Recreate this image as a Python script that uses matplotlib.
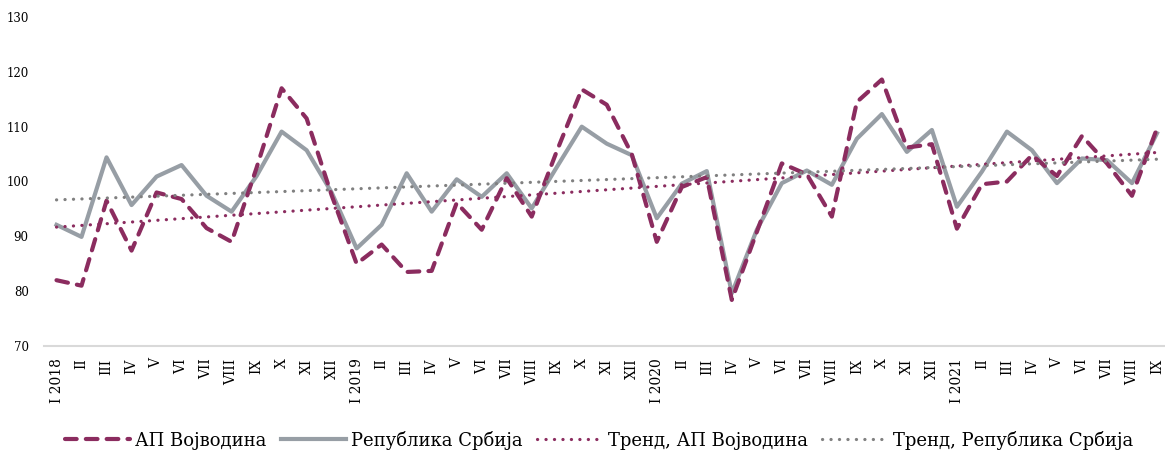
import numpy as np
import matplotlib
matplotlib.use('Agg')
import matplotlib.pyplot as plt

plt.rcParams['font.family'] = ['DejaVu Serif']

# Podaci (indeksi po mesecima, I 2018 - IX 2021)
meseci = ['I', 'II', 'III', 'IV', 'V', 'VI', 'VII', 'VIII', 'IX', 'X', 'XI', 'XII']
oznake = []
for godina in [2018, 2019, 2020, 2021]:
    for m in meseci:
        oznake.append(m + ' ' + str(godina) if m == 'I' else m)
oznake = oznake[:45]

vojvodina = [82.0, 81.0, 96.5, 87.4, 98.0, 96.8, 91.5, 89.0, 102.5, 117.0,
             111.5, 97.5, 85.0, 88.5, 83.5, 83.7, 96.1, 91.2, 100.6, 93.6,
             105.5, 116.8, 114.0, 105.0, 89.0, 99.0, 100.8, 78.4, 90.8, 103.3,
             101.3, 93.6, 114.5, 118.6, 106.2, 106.8, 91.4, 99.5, 100.0, 104.8,
             101.0, 108.3, 103.3, 97.4, 109.7]

srbija = [92.1, 89.9, 104.4, 95.7, 100.9, 103.0, 97.4, 94.5, 101.0, 109.1,
          105.7, 98.0, 87.8, 92.1, 101.5, 94.5, 100.4, 97.2, 101.5, 95.1,
          102.6, 110.0, 106.9, 104.8, 93.3, 99.6, 101.9, 79.6, 91.2, 99.7,
          102.0, 99.4, 107.8, 112.3, 105.4, 109.4, 95.4, 101.8, 109.1, 105.7,
          99.7, 104.2, 103.9, 99.7, 108.8]

x = np.arange(len(oznake))

# linearni trend kao u Excelu
trend_v = np.polyval(np.polyfit(x, vojvodina, 1), x)
trend_s = np.polyval(np.polyfit(x, srbija, 1), x)

bordo = '#8B2C5F'
siva = '#979EA5'
siva_trend = '#808080'

fig = plt.figure(figsize=(11.65, 4.51), dpi=100)
ax = fig.add_axes([44 / 1165, 105 / 451, 1125.5 / 1165, 329 / 451])

ax.plot(x, vojvodina, color=bordo, lw=3, linestyle=(0, (2.8, 2.2)),
        dash_capstyle='round', label='АП Војводина', zorder=3)
ax.plot(x, srbija, color=siva, lw=3, label='Република Србија', zorder=2)
ax.plot(x, trend_v, color=bordo, lw=2.3, linestyle=(0, (0.05, 2.6)),
        dash_capstyle='round', label='Тренд, АП Војводина', zorder=4)
ax.plot(x, trend_s, color=siva_trend, lw=2.3, linestyle=(0, (0.05, 2.6)),
        dash_capstyle='round', label='Тренд, Република Србија', zorder=4)

ax.set_xlim(-0.5, 44.5)
ax.set_ylim(70, 130)
ax.set_yticks(range(70, 131, 10))
ax.set_xticks(x)
ax.set_xticklabels(oznake, rotation=90, fontsize=10)
ax.tick_params(axis='x', length=0, pad=9)
ax.tick_params(axis='y', length=0, pad=11, labelsize=8.5)

for s in ['top', 'right', 'left']:
    ax.spines[s].set_visible(False)
ax.spines['bottom'].set_color('#d9d9d9')
ax.spines['bottom'].set_linewidth(1.5)

fig.legend(loc='center', bbox_to_anchor=(0.514, 11 / 451), ncol=4, frameon=False,
           fontsize=13, handlelength=3.6, handletextpad=0.3, columnspacing=0.8)

plt.savefig('out.png', dpi=100)
